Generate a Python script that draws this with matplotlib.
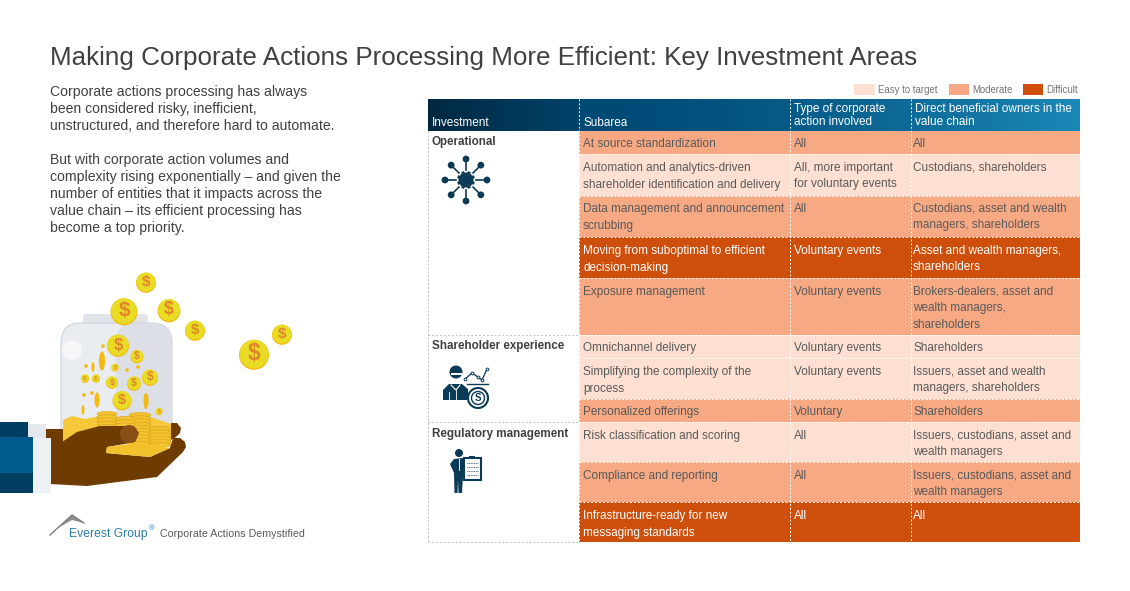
import numpy as np
import matplotlib
matplotlib.use('Agg')
import matplotlib.pyplot as plt
from matplotlib import font_manager
from matplotlib.patches import Rectangle, Circle, Ellipse, Polygon, FancyBboxPatch

plt.rcParams['font.family'] = ['Liberation Sans', 'DejaVu Sans']

# --- textos e dados ---
titulo = 'Making Corporate Actions Processing More Efficient: Key Investment Areas'
intro = ['Corporate actions processing has always', 'been considered risky, inefficient,',
         'unstructured, and therefore hard to automate.', '',
         'But with corporate action volumes and', 'complexity rising exponentially \u2013 and given the',
         'number of entities that it impacts across the', 'value chain \u2013 its efficient processing has',
         'become a top priority.']
intro_y = [91, 108, 125, 0, 159, 176, 193, 210, 227]

legenda = ['Easy to target', 'Moderate', 'Difficult']
niveis = {'E': '#FDE0D2', 'M': '#F7A984', 'D': '#CE4F0C'}

subarea = ['At source standardization',
           'Automation and analytics-driven\nshareholder identification and delivery',
           'Data management and announcement\nscrubbing',
           'Moving from suboptimal to efficient\ndecision-making',
           'Exposure management',
           'Omnichannel delivery',
           'Simplifying the complexity of the\nprocess',
           'Personalized offerings',
           'Risk classification and scoring',
           'Compliance and reporting',
           'Infrastructure-ready for new\nmessaging standards']
tipo = ['All', 'All, more important\nfor voluntary events', 'All', 'Voluntary events', 'Voluntary events',
        'Voluntary events', 'Voluntary events', 'Voluntary', 'All', 'All', 'All']
donos = ['All', 'Custodians, shareholders', 'Custodians, asset and wealth\nmanagers, shareholders',
         'Asset and wealth managers,\nshareholders',
         'Brokers-dealers, asset and\nwealth managers,\nshareholders',
         'Shareholders', 'Issuers, asset and wealth\nmanagers, shareholders', 'Shareholders',
         'Issuers, custodians, asset and\nwealth managers', 'Issuers, custodians, asset and\nwealth managers', 'All']
nivel = ['M', 'E', 'M', 'D', 'M', 'E', 'E', 'M', 'E', 'M', 'D']
grupos = ['Operational', 'Shareholder experience', 'Regulatory management']

# --- layout em pixels ---
fig = plt.figure(figsize=(11.30, 5.91), dpi=100)
ax = fig.add_axes([0, 0, 1, 1])

col_x = [428, 579, 790, 911, 1080]
row_y = [131, 154, 196, 237, 278, 335, 358, 399, 422, 462, 502, 542]
text_y = [143, 167, 208, 250, 291, 347, 371, 411, 435, 475, 515]
grupo_y = [141, 345, 433]
CINZA = '#595959'
AZUL = '#0B3A56'
TAM = 8.5


def txt(x, y, s, size=TAM, color=CINZA, **kw):
    ax.text(x, y + 0.8, s, fontsize=size, color=color, va='center', ha=kw.pop('ha', 'left'), **kw)


# cabecalho com gradiente
pontos = np.linspace(428, 1080, 300)
c0 = np.array([0x01, 0x28, 0x40]) / 255
c1 = np.array([0x00, 0x4A, 0x75]) / 255
c2 = np.array([0x1B, 0x88, 0xB8]) / 255
img = np.zeros((1, 300, 3))
for i, p in enumerate(pontos):
    if p < 579:
        cor = c0 + (c1 - c0) * (p - 428) / 151 * 0.8
    else:
        cor = c1 + (c2 - c1) * ((p - 579) / 501) ** 1.5
    img[0, i] = cor
ax.imshow(img, extent=(428, 1080, 131, 99), aspect='auto', zorder=1, interpolation='bilinear')
ax.set_xlim(0, 1130)
ax.set_ylim(591, 0)
ax.axis('off')

txt(50, 57.5, titulo, size=18.7, color='#404040')
for y, s in zip(intro_y, intro):
    if s:
        txt(50, y, s, size=10.05, color='#404040')

# legenda
for x0, x1, s, k in zip([854, 949, 1023], [875, 969, 1043], legenda, 'EMD'):
    ax.add_patch(Rectangle((x0, 84), x1 - x0, 11, fc=niveis[k], ec='none'))
    txt(x1 + 3, 89, s, size=6.9, color='#737373')

txt(432, 122, 'Investment', color='white', zorder=3)
txt(583, 122, 'Subarea', color='white', zorder=3)
txt(794, 108, 'Type of corporate', color='white', zorder=3)
txt(794, 121, 'action involved', color='white', zorder=3)
txt(915, 108, 'Direct beneficial owners in the', color='white', zorder=3)
txt(915, 121, 'value chain', color='white', zorder=3)

# linhas da tabela
for i in range(len(subarea)):
    y0, y1 = row_y[i], row_y[i + 1]
    ax.add_patch(Rectangle((col_x[1], y0), col_x[4] - col_x[1], y1 - y0, fc=niveis[nivel[i]], ec='none', zorder=1))
    cor = 'white' if nivel[i] == 'D' else CINZA
    for j, l in enumerate(subarea[i].split('\n')):
        txt(583, text_y[i] + j * 17, l, color=cor, zorder=3)
    for j, l in enumerate(tipo[i].split('\n')):
        txt(794, text_y[i] + j * 16.5, l, color=cor, zorder=3)
    for j, l in enumerate(donos[i].split('\n')):
        txt(913, text_y[i] + j * 16.5, l, color=cor, zorder=3)
    if i > 0:
        ax.plot([579, 1080], [y0, y0], color='white', lw=0.7, ls=(0, (2, 2)), zorder=2)

for x in col_x[1:4]:
    ax.plot([x, x], [99, 542], color='white', lw=0.7, ls=(0, (2, 2)), zorder=2)

# coluna de grupos
for y, s in zip(grupo_y, grupos):
    txt(432, y, s, color='#404040', fontweight='bold', size=8.4)
tr = dict(color='#BDBDBD', lw=0.7, ls=(0, (2, 2)))
ax.plot([428, 428], [131, 542], **tr)
ax.plot([428, 579], [542, 542], **tr)
ax.plot([428, 579], [335, 335], **tr)
ax.plot([428, 579], [422, 422], **tr)

# icone engrenagem
cx, cy = 466, 180
for a in np.arange(0, 360, 45):
    r = np.radians(a)
    ax.plot([cx + 10 * np.cos(r), cx + 20 * np.cos(r)], [cy + 10 * np.sin(r), cy + 20 * np.sin(r)], color=AZUL, lw=1.2)
    ax.add_patch(Circle((cx + 21 * np.cos(r), cy + 21 * np.sin(r)), 3.4, fc=AZUL, ec='none'))
    r2 = np.radians(a + 22.5)
    ax.plot([cx, cx + 9 * np.cos(r2)], [cy, cy + 9 * np.sin(r2)], color=AZUL, lw=2.2, solid_capstyle='butt')
ax.add_patch(Circle((cx, cy), 7.5, fc=AZUL, ec='none'))
ax.add_patch(Circle((cx, cy), 4.2, fc='white', ec='none'))
ax.add_patch(Circle((cx, cy), 2, fc=AZUL, ec='none'))

# icone acionista
ax.add_patch(Circle((456, 372), 6.5, fc=AZUL, ec='none'))
ax.add_patch(Rectangle((450.5, 373), 11, 2, fc='white', ec='none'))
ax.add_patch(Polygon([(443, 400), (443, 390), (449, 384), (462, 384), (468, 389), (468, 400)], fc=AZUL, ec='none'))
ax.plot([451, 456, 460], [385, 390, 385], color='white', lw=0.8)
ax.plot([449, 449], [392, 400], color='white', lw=0.6)
ax.plot([456, 456], [390, 400], color='white', lw=0.6)
ax.plot([465, 472, 478, 482, 487], [379, 373, 377, 380, 369], color=AZUL, lw=0.9, marker='o', ms=2, mfc='white', mew=0.7)
ax.plot([467, 488], [384, 384], color=AZUL, lw=1.0)
ax.add_patch(Circle((478, 398), 10, fc='white', ec=AZUL, lw=1.5))
ax.add_patch(Circle((478, 398), 6.5, fc='white', ec=AZUL, lw=1.0))
ax.text(478, 398, 'S', fontsize=7, fontweight='bold', color=AZUL, ha='center', va='center')

# icone regulatorio
ax.add_patch(Circle((459, 453), 4, fc=AZUL, ec='none'))
ax.add_patch(Polygon([(454, 459), (463, 458), (463, 476), (462, 493), (458.5, 493), (458, 480), (457.5, 493),
                      (454.5, 493), (454, 473), (450, 464)], fc=AZUL, ec='none'))
ax.plot([458.5, 458.5], [459, 470], color='white', lw=0.6)
ax.add_patch(Rectangle((464, 458), 17, 22, fc='white', ec=AZUL, lw=1.5))
ax.add_patch(Rectangle((469, 456), 6, 3, fc=AZUL, ec='none'))
for y in [463, 467, 471, 475]:
    ax.plot([467, 478], [y, y], color=AZUL, lw=0.6, ls=(0, (1, 1)))

# frasco e moedas
DOUR = '#E9DC24'
BORDA = '#F5B90F'
SIMB = '#E0872A'
ax.add_patch(FancyBboxPatch((83, 314), 65, 9, boxstyle='round,pad=0,rounding_size=3', fc='#E0E4EA', ec='none', zorder=2))
ax.add_patch(FancyBboxPatch((61, 323), 111, 125, boxstyle='round,pad=0,rounding_size=20', fc='#E9ECF1', ec='#CDD2D9', lw=0.8, zorder=2))
ax.add_patch(FancyBboxPatch((116, 324), 55.5, 124, boxstyle='round,pad=0,rounding_size=16', fc='#DCE0E6', ec='none', zorder=2))
ax.add_patch(Rectangle((116, 340), 20, 108, fc='#DCE0E6', ec='none', zorder=2))
ax.add_patch(Circle((72, 350), 10, fc='#F6F7F9', ec='none', zorder=3))

# parte de tras da mao e ouro no fundo
MAO = '#6E3B00'
ax.add_patch(Polygon([(46, 429), (64, 429), (64, 445), (46, 445)], fc=MAO, ec='none', zorder=3))
ax.add_patch(Polygon([(171, 423), (177, 423), (181, 428), (180, 433), (176, 437), (171, 440)], fc=MAO, ec='none', zorder=3))
ax.add_patch(Polygon([(63, 441), (63, 420), (72, 416), (85, 419), (100, 416), (120, 420), (150, 417), (171, 424), (171, 445)],
                     fc='#F7C93A', ec='none', zorder=3))

# pilhas de moedas
for x, y, w, n in [(107, 414, 20, 5), (140, 415, 22, 10), (125, 419, 20, 3), (160, 429, 22, 6)]:
    for k in range(n):
        ax.add_patch(Ellipse((x, y + k * 3.2), w, 5, fc='#F3C32E', ec='#D9A021', lw=0.4, zorder=4))

moeda_x = [146, 124, 169, 195, 282, 254, 118, 137, 150, 134, 112, 96, 85, 115, 122, 159]
moeda_y = [282, 311, 310, 330, 334, 354, 345, 356, 377, 383, 382, 378, 378, 367, 400, 411]
moeda_r = [10, 13.5, 11.5, 10, 10, 15, 11, 6.5, 8, 7, 6, 4, 4, 3.7, 9.5, 3.5]
for x, y, r in zip(moeda_x, moeda_y, moeda_r):
    ax.add_patch(Circle((x, y + 0.8), r, fc=BORDA, ec='none', zorder=5))
    ax.add_patch(Circle((x, y), r * 0.95, fc=DOUR, ec='none', zorder=5))
    ax.text(x, y, '$', fontsize=r * 1.1, fontweight='bold', color=SIMB, ha='center', va='center', zorder=6)

for x, y, w, h in [(102, 361, 6, 19), (93, 367, 3, 10), (97, 400, 5, 15), (146, 401, 5, 16), (83, 410, 3, 10)]:
    ax.add_patch(Ellipse((x, y), w, h, fc=BORDA, ec='none', zorder=5))
ponto_x = [103, 86, 127, 138, 84, 92]
ponto_y = [346, 366, 370, 367, 395, 393]
for x, y in zip(ponto_x, ponto_y):
    ax.add_patch(Circle((x, y), 1.8, fc=BORDA, ec='none', zorder=5))

# mao
ax.add_patch(Polygon([(50, 439), (62, 442), (77, 432), (100, 426), (133, 426), (139, 433), (135, 442), (107, 447),
                      (106, 453), (150, 457), (170, 448), (173, 438), (180, 438), (185, 442), (186, 447), (183, 452),
                      (157, 477), (87, 486), (50, 484)], fc=MAO, ec='none', zorder=7))
ax.add_patch(Circle((129, 434), 9, fc='#8A4F17', ec='none', zorder=8))
ax.add_patch(Polygon([(107, 447), (135, 443), (170, 448), (150, 457), (106, 453)], fc='#F2C12C', ec='none', zorder=8))

# manga
ax.add_patch(Rectangle((28, 424), 18, 15, fc='#E4E8ED', ec='none', zorder=7))
ax.add_patch(Rectangle((33, 438), 18, 55, fc='#EEF1F4', ec='none', zorder=7))
ax.add_patch(Rectangle((0, 422), 28, 15, fc='#003E62', ec='none', zorder=8))
ax.add_patch(Rectangle((0, 437), 33, 36, fc='#005A8C', ec='none', zorder=8))
ax.add_patch(Rectangle((0, 473), 33, 20, fc='#003E62', ec='none', zorder=8))

# logo
ax.plot([50, 72, 84], [535, 515, 523], color='#7F7F7F', lw=1.0)
ax.add_patch(Polygon([(72, 515), (84, 523), (72, 520), (58, 528)], fc='#8C8C8C', ec='none'))
instaladas = {f.name for f in font_manager.fontManager.ttflist}
if 'Liberation Sans Narrow' in instaladas:
    txt(69, 533, 'Everest Group', size=10.6, color='#2A7DA8', family='Liberation Sans Narrow')
else:
    txt(69, 533, 'Everest Group', size=8.7, color='#2A7DA8')
txt(148.5, 528, '\u00ae', size=5.5, color='#2A7DA8')
txt(160, 533.5, 'Corporate Actions Demystified', size=7.7, color='#595959')

fig.savefig('out.png', dpi=100)
